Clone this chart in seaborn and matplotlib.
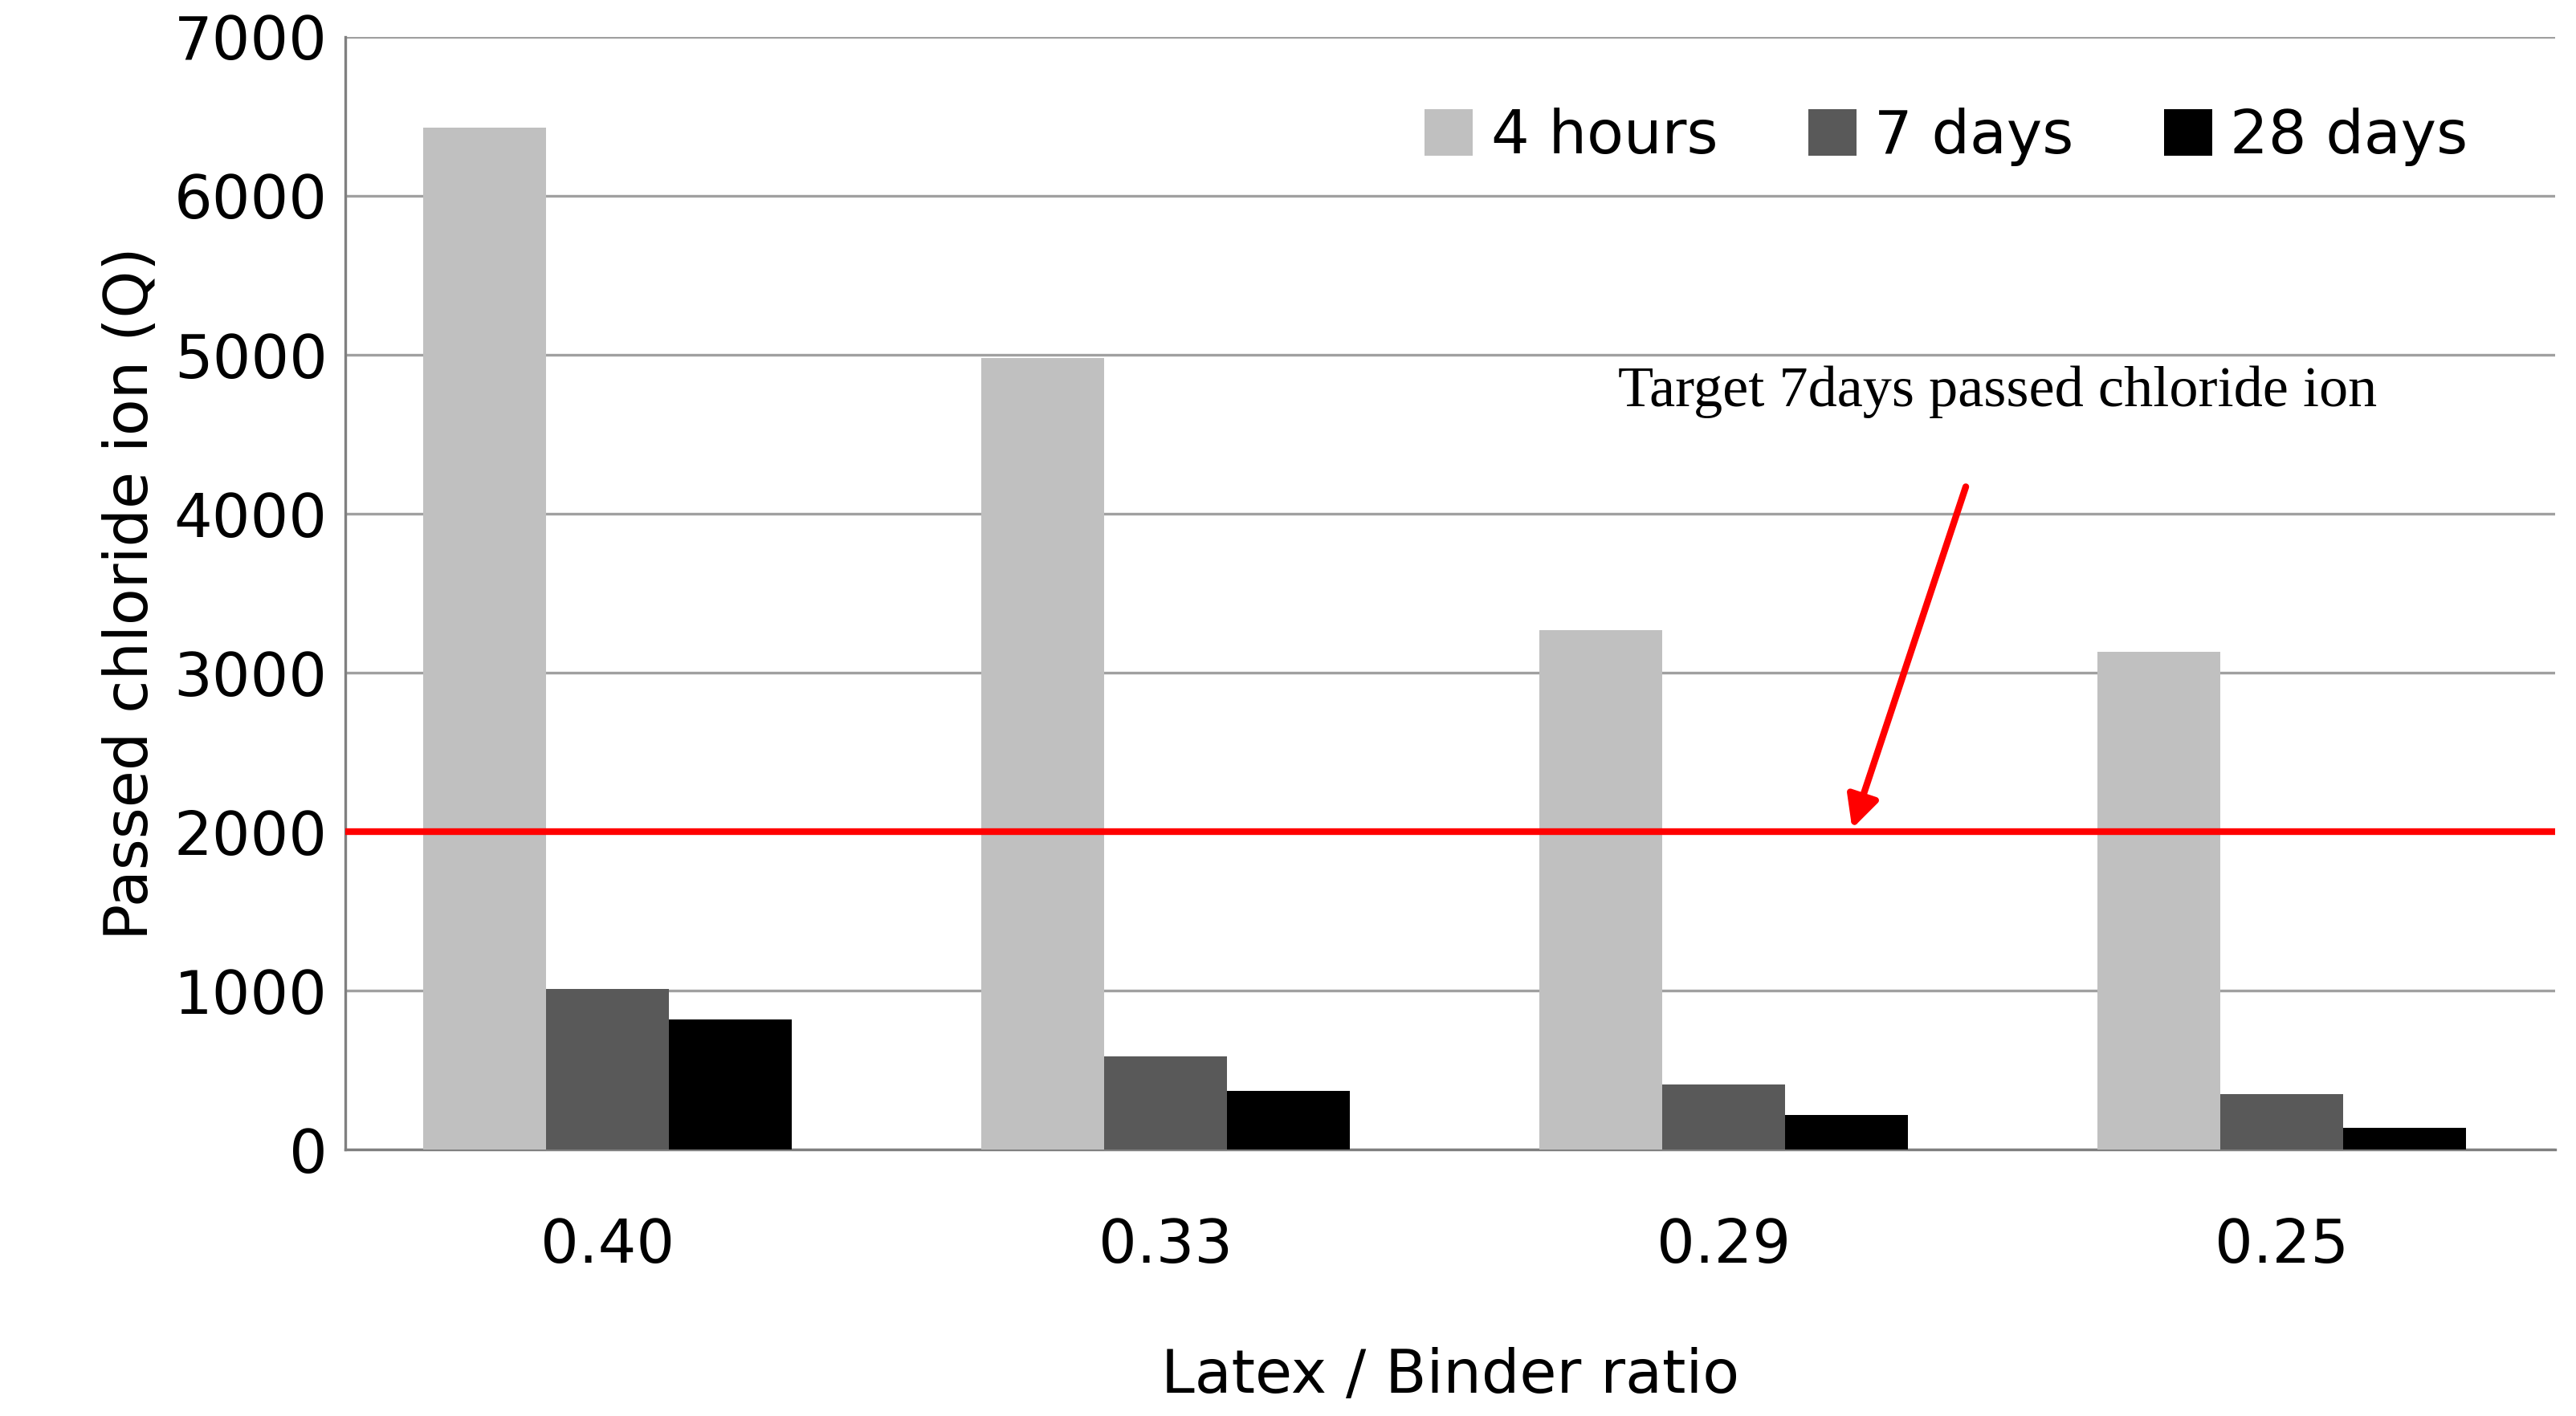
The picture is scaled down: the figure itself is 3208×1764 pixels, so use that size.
import seaborn as sns
import matplotlib.pyplot as plt
import pandas as pd

ratios = ["0.40", "0.33", "0.29", "0.25"]
series = ["4 hours", "7 days", "28 days"]
hours_4 = [6430, 4980, 3270, 3130]
days_7 = [1010, 590, 410, 350]
days_28 = [820, 370, 220, 140]
target = 2000

df = pd.DataFrame({
    "ratio": ratios * 3,
    "series": [s for s in series for _ in ratios],
    "value": hours_4 + days_7 + days_28,
})

sns.set_style("white")
plt.rcParams['font.family'] = ['DejaVu Sans']
plt.rcParams['text.color'] = 'black'
plt.rcParams['xtick.color'] = 'black'
plt.rcParams['ytick.color'] = 'black'
plt.rcParams['axes.labelcolor'] = 'black'
fig, ax = plt.subplots(figsize=(16.04, 8.82), dpi=200)
fig.subplots_adjust(left=0.134, right=0.992, top=0.974, bottom=0.188)

sns.barplot(data=df, x="ratio", y="value", hue="series", order=ratios, hue_order=series,
            palette=["#c0c0c0", "#595959", "#000000"], width=0.66, saturation=1,
            edgecolor="none", ax=ax, zorder=3)

ax.set_ylim(0, 7000)
ax.set_xlim(-0.47, 3.49)
ax.set_yticks(range(0, 7001, 1000))
ax.yaxis.grid(True, color="#a0a0a0", linewidth=1.2, zorder=0)
ax.set_axisbelow(True)
for s in ["top", "right"]:
    ax.spines[s].set_visible(False)
for s in ["left", "bottom"]:
    ax.spines[s].set_color("#808080")
    ax.spines[s].set_linewidth(1.2)
ax.tick_params(axis="y", labelsize=27, length=0, pad=8)
ax.tick_params(axis="x", labelsize=27, length=0, pad=30)
ax.set_xlabel("Latex / Binder ratio", fontsize=27, labelpad=32)
ax.set_ylabel("Passed chloride ion (Q)", fontsize=27, labelpad=6)

ax.axhline(target, color="#ff0000", linewidth=3, zorder=4)
ax.annotate("Target 7days passed chloride ion", xy=(2.23, 2020), xytext=(2.49, 4600),
            fontsize=26, family="Liberation Serif", ha="center", va="bottom",
            arrowprops=dict(arrowstyle="-|>", color="#ff0000", lw=3, mutation_scale=30,
                            shrinkA=30, shrinkB=0))

ax.legend(loc="upper right", fontsize=27, frameon=False, ncol=3, handlelength=0.8,
          handleheight=0.8, columnspacing=1.5, handletextpad=0.3, bbox_to_anchor=(0.985, 0.985))

fig.savefig("out.png")
